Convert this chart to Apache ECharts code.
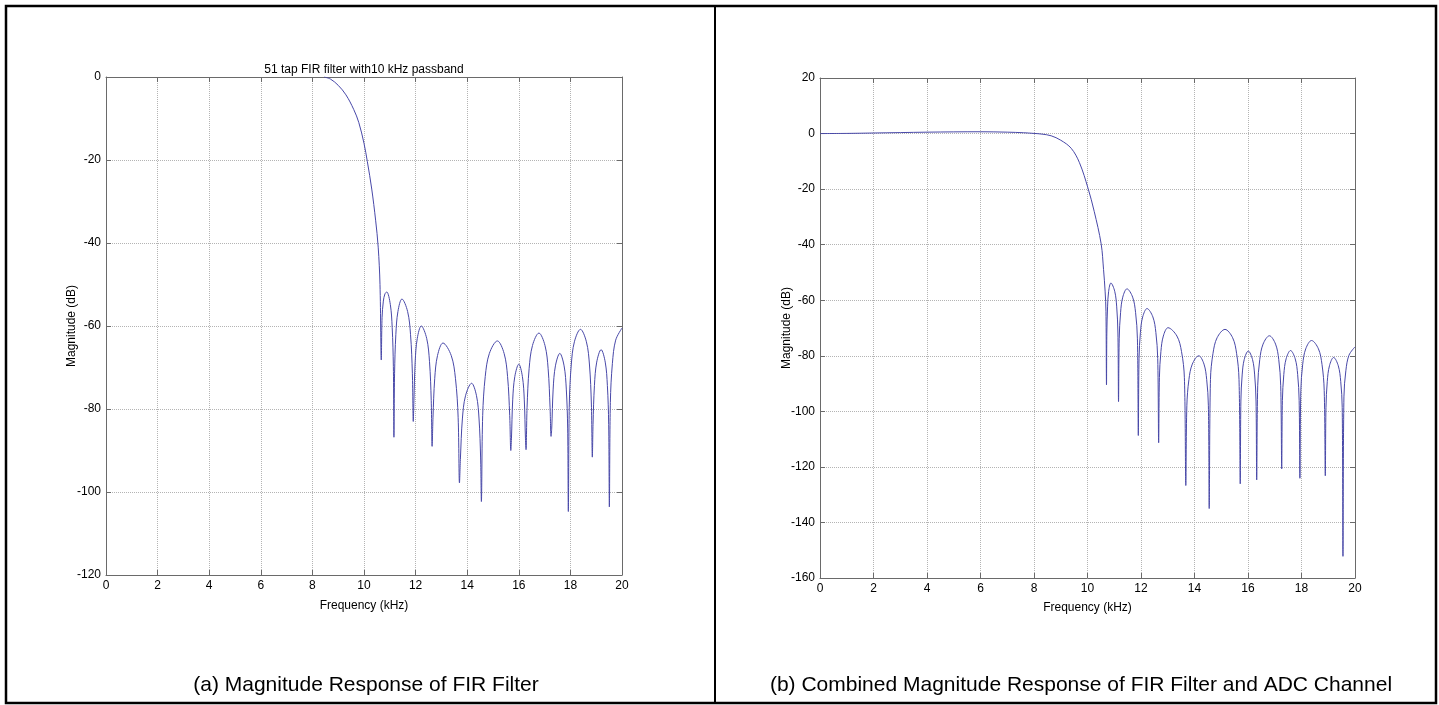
<!DOCTYPE html>
<html>
<head>
<meta charset="utf-8">
<script src="https://cdn.jsdelivr.net/npm/echarts@6/dist/echarts.min.js"></script>
<style>
  html, body { margin: 0; padding: 0; background: #fff; }
  #main { width: 1439px; height: 705px; }
</style>
</head>
<body>
<div id="main"></div>
<script>
// (a) 51 tap FIR filter, magnitude in dB vs frequency in kHz
const firFreq = [
  8.45, 8.7, 9.0, 9.3, 9.6, 9.8, 10.0, 10.13, 10.3, 10.45, 10.55, 10.62, 10.67,
  10.70, 10.75, 10.81, 10.88, 11.02, 11.093, 11.138, 11.16,
  11.185, 11.234, 11.315, 11.47, 11.69, 11.804, 11.875, 11.91,
  11.935, 11.984, 12.065, 12.22, 12.43, 12.539, 12.606, 12.64,
  12.674, 12.741, 12.85, 13.06, 13.38, 13.546, 13.649, 13.70,
  13.738, 13.813, 13.935, 14.17, 14.36, 14.459, 14.52, 14.55,
  14.6, 14.699, 14.86, 15.17, 15.43, 15.565, 15.648, 15.69,
  15.715, 15.764, 15.845, 16.0, 16.14, 16.213, 16.258, 16.28,
  16.32, 16.4, 16.53, 16.78, 17.015, 17.137, 17.212, 17.25,
  17.277, 17.332, 17.42, 17.59, 17.755, 17.841, 17.894, 17.92,
  17.958, 18.033, 18.155, 18.39, 18.62, 18.74, 18.813, 18.85,
  18.877, 18.932, 19.02, 19.19, 19.35, 19.433, 19.484, 19.51,
  19.549, 19.628, 19.755, 20
];
const firDb = [
  0, -0.5, -2, -4.3, -7.8, -11, -16, -20.4, -27, -34.5, -41, -50, -68.2,
  -58, -54, -52.3, -51.8, -54.8, -60.4, -69.8, -86.8,
  -71.5, -62.1, -56.5, -53.5, -56.5, -62.1, -71.5, -83,
  -78, -68.6, -63, -60, -63, -68.6, -78, -89,
  -82.1, -72.7, -67.1, -64.1, -67.1, -72.7, -82.1, -97.8,
  -91.8, -82.4, -76.8, -73.8, -76.8, -82.4, -91.8, -102.3,
  -81.6, -72.2, -66.6, -63.6, -66.6, -72.2, -81.6, -90,
  -87.2, -77.8, -72.2, -69.2, -72.2, -77.8, -87.2, -89.8,
  -79.7, -70.3, -64.7, -61.7, -64.7, -70.3, -79.7, -86.6,
  -84.6, -75.2, -69.6, -66.6, -69.6, -75.2, -84.6, -104.7,
  -78.8, -69.4, -63.8, -60.8, -63.8, -69.4, -78.8, -91.6,
  -83.7, -74.3, -68.7, -65.7, -68.7, -74.3, -83.7, -103.6,
  -78.4, -69, -63.4, -60.5
];

// (b) FIR filter combined with the ADC channel
const adcFreq = [
  0, 1, 2, 3, 4, 5, 6, 7, 7.6, 8, 8.3, 8.64, 9.0, 9.39, 9.7, 10.02, 10.25, 10.51,
  10.6, 10.66, 10.69, 10.71,
  10.723, 10.75, 10.79, 10.875, 11.018, 11.092, 11.137, 11.16,
  11.185, 11.236, 11.318, 11.475, 11.688, 11.798, 11.866, 11.9,
  11.926, 11.978, 12.063, 12.225, 12.443, 12.556, 12.625, 12.66,
  12.688, 12.744, 12.835, 13.01, 13.343, 13.515, 13.622, 13.675,
  13.714, 13.791, 13.918, 14.16, 14.355, 14.456, 14.519, 14.55,
  14.597, 14.692, 14.845, 15.14, 15.425, 15.573, 15.664, 15.71,
  15.734, 15.782, 15.86, 16.01, 16.168, 16.249, 16.3, 16.325,
  16.363, 16.439, 16.563, 16.8, 17.03, 17.15, 17.223, 17.26,
  17.286, 17.339, 17.425, 17.59, 17.765, 17.856, 17.912, 17.94,
  17.975, 18.044, 18.158, 18.375, 18.633, 18.766, 18.849, 18.89,
  18.915, 18.964, 19.045, 19.2, 19.375, 19.466, 19.522, 19.55,
  19.586, 19.658, 19.775, 20
];
const adcDb = [
  0, 0.05, 0.2, 0.35, 0.5, 0.6, 0.65, 0.5, 0.3, 0.05, -0.2, -0.8, -2.4, -5.3, -10.5, -19.7, -28, -39.7,
  -49, -57, -64, -90.5,
  -71.8, -62.4, -56.8, -53.8, -56.8, -62.4, -71.8, -96.5,
  -73.9, -64.5, -58.9, -55.9, -58.9, -64.5, -73.9, -108.7,
  -81, -71.6, -66, -63, -66, -71.6, -81, -111.3,
  -87.9, -78.5, -72.9, -69.9, -72.9, -78.5, -87.9, -126.7,
  -98, -88.6, -83, -80, -83, -88.6, -98, -135,
  -88.5, -79.1, -73.5, -70.5, -73.5, -79.1, -88.5, -126.1,
  -96.3, -86.9, -81.3, -78.3, -81.3, -86.9, -96.3, -124.7,
  -90.8, -81.4, -75.8, -72.8, -75.8, -81.4, -90.8, -120.7,
  -96.1, -86.7, -81.1, -78.1, -81.1, -86.7, -96.1, -124.1,
  -92.5, -83.1, -77.5, -74.5, -77.5, -83.1, -92.5, -123.2,
  -98.6, -89.2, -83.6, -80.6, -83.6, -89.2, -98.6, -152.2,
  -94.8, -85.4, -79.8, -76.8
];

const plotTitle = "51 tap FIR filter with10 kHz passband";
const captionA = "(a) Magnitude Response of FIR Filter";
const captionB = "(b) Combined Magnitude Response of FIR Filter and ADC Channel";

const font = "'Liberation Sans', Arial, sans-serif";
const axisGray = "#6a6a6a";

function zip(xs, ys) {
  return xs.map((x, i) => [x, ys[i]]);
}

// bottom/left axes carry labels and grid, top/right axes only close the box
function xAxes(grid, gap) {
  return [
    {
      gridIndex: grid, type: "value", min: 0, max: 20, interval: 2, position: "bottom",
      name: "Frequency (kHz)", nameLocation: "middle", nameGap: gap, nameMoveOverlap: false,
      nameTextStyle: { color: "#000", fontSize: 12, fontFamily: font },
      axisLine: { show: true, onZero: false, lineStyle: { color: axisGray, width: 1 } },
      axisTick: { show: true, inside: true, length: 5, lineStyle: { color: axisGray } },
      axisLabel: { color: "#000", fontSize: 12, fontFamily: font, margin: 5 },
      splitLine: { show: true, lineStyle: { color: "#b4b4b4", type: "dotted", width: 1 } }
    },
    {
      gridIndex: grid, type: "value", min: 0, max: 20, interval: 2, position: "top",
      axisLine: { show: true, onZero: false, lineStyle: { color: axisGray, width: 1 } },
      axisTick: { show: true, inside: true, length: 5, lineStyle: { color: axisGray } },
      axisLabel: { show: false },
      splitLine: { show: false }
    }
  ];
}

function yAxes(grid, min, max, gap) {
  return [
    {
      gridIndex: grid, type: "value", min: min, max: max, interval: 20, position: "left",
      name: "Magnitude (dB)", nameLocation: "middle", nameGap: gap, nameRotate: 90,
      nameMoveOverlap: false,
      nameTextStyle: { color: "#000", fontSize: 12, fontFamily: font },
      axisLine: { show: true, onZero: false, lineStyle: { color: axisGray, width: 1 } },
      axisTick: { show: true, inside: true, length: 5, lineStyle: { color: axisGray } },
      axisLabel: { color: "#000", fontSize: 12, fontFamily: font, margin: 5 },
      splitLine: { show: true, lineStyle: { color: "#b4b4b4", type: "dotted", width: 1 } }
    },
    {
      gridIndex: grid, type: "value", min: min, max: max, interval: 20, position: "right",
      axisLine: { show: true, onZero: false, lineStyle: { color: axisGray, width: 1 } },
      axisTick: { show: true, inside: true, length: 5, lineStyle: { color: axisGray } },
      axisLabel: { show: false },
      splitLine: { show: false }
    }
  ];
}

const chart = echarts.init(document.getElementById("main"));

const option = {
  backgroundColor: "#fff",
  animation: false,
  title: [
    {
      text: plotTitle, left: 364, top: 64, padding: 0, textAlign: "center",
      textStyle: { color: "#000", fontSize: 12, fontWeight: "normal", fontFamily: font }
    },
    {
      text: captionA, left: 361, top: 670, textAlign: "center",
      textStyle: { color: "#000", fontSize: 21, fontWeight: "normal", fontFamily: font }
    },
    {
      text: captionB, left: 1076, top: 670, textAlign: "center",
      textStyle: { color: "#000", fontSize: 21, fontWeight: "normal", fontFamily: font }
    }
  ],
  grid: [
    { left: 106, top: 77, width: 516, height: 498 },
    { left: 820, top: 78, width: 535, height: 500 }
  ],
  xAxis: xAxes(0, 25).concat(xAxes(1, 24)),
  yAxis: yAxes(0, -120, 0, 28).concat(yAxes(1, -160, 20, 27)),
  series: [
    {
      type: "line", xAxisIndex: 0, yAxisIndex: 0,
      data: zip(firFreq, firDb),
      showSymbol: false, smooth: 0.35, clip: true,
      lineStyle: { color: "#4848a8", width: 1 }
    },
    {
      type: "line", xAxisIndex: 2, yAxisIndex: 2,
      data: zip(adcFreq, adcDb),
      showSymbol: false, smooth: 0.35, clip: true,
      lineStyle: { color: "#4848a8", width: 1 }
    }
  ],
  graphic: [
    {
      type: "rect", silent: true,
      shape: { x: 6, y: 6, width: 1430, height: 697 },
      style: { fill: null, stroke: "#000", lineWidth: 2.5 }
    },
    {
      type: "line", silent: true,
      shape: { x1: 715, y1: 6, x2: 715, y2: 703 },
      style: { stroke: "#000", lineWidth: 2 }
    }
  ]
};

chart.setOption(option);
</script>
</body>
</html>
